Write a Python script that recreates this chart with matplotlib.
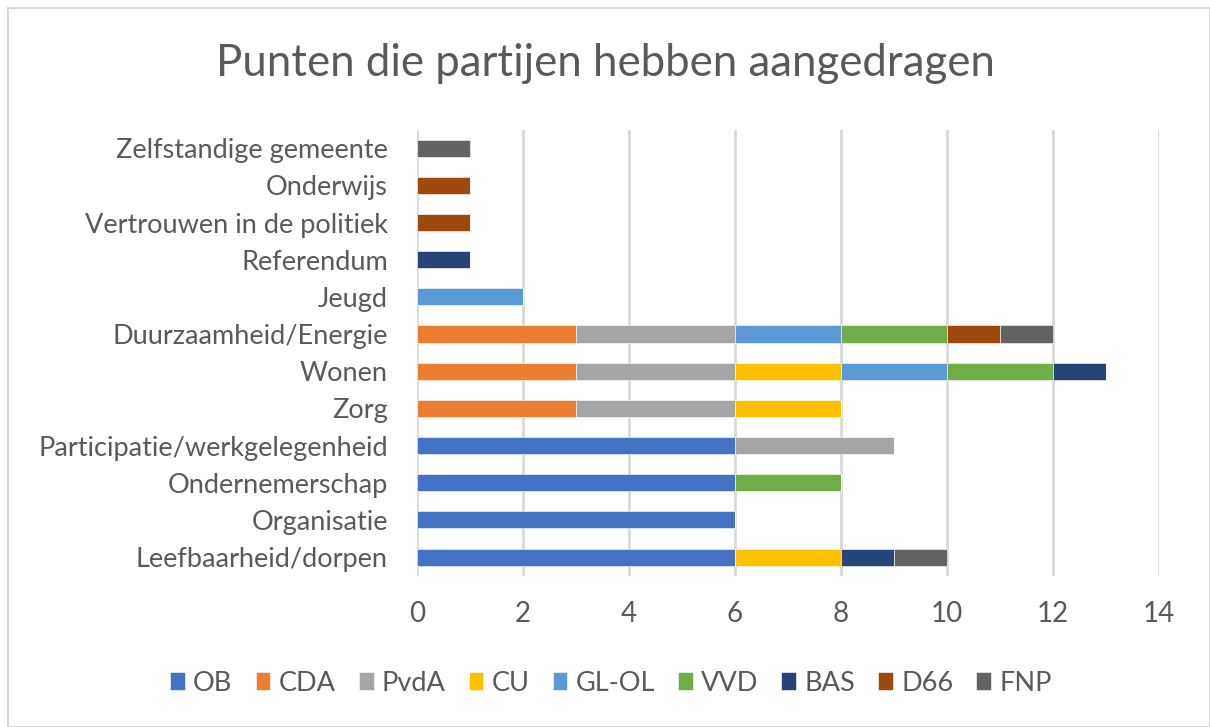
import matplotlib
matplotlib.use("Agg")
import matplotlib.pyplot as plt
from matplotlib.patches import Rectangle
import numpy as np

plt.rcParams['font.family'] = ['Lato', 'DejaVu Sans']

# onderwerpen, van onder naar boven
categories = ["Leefbaarheid/dorpen", "Organisatie", "Ondernemerschap",
              "Participatie/werkgelegenheid", "Zorg", "Wonen",
              "Duurzaamheid/Energie", "Jeugd", "Referendum",
              "Vertrouwen in de politiek", "Onderwijs", "Zelfstandige gemeente"]

parties = ["OB", "CDA", "PvdA", "CU", "GL-OL", "VVD", "BAS", "D66", "FNP"]
colors = ["#4472C4", "#ED7D31", "#A5A5A5", "#FFC000", "#5B9BD5",
          "#70AD47", "#264478", "#9E480E", "#636363"]

OB    = [6, 6, 6, 6, 0, 0, 0, 0, 0, 0, 0, 0]
CDA   = [0, 0, 0, 0, 3, 3, 3, 0, 0, 0, 0, 0]
PvdA  = [0, 0, 0, 3, 3, 3, 3, 0, 0, 0, 0, 0]
CU    = [2, 0, 0, 0, 2, 2, 0, 0, 0, 0, 0, 0]
GL_OL = [0, 0, 0, 0, 0, 2, 2, 2, 0, 0, 0, 0]
VVD   = [0, 0, 2, 0, 0, 2, 2, 0, 0, 0, 0, 0]
BAS   = [1, 0, 0, 0, 0, 1, 0, 0, 1, 0, 0, 0]
D66   = [0, 0, 0, 0, 0, 0, 1, 0, 0, 1, 1, 0]
FNP   = [1, 0, 0, 0, 0, 0, 1, 0, 0, 0, 0, 1]
series = [OB, CDA, PvdA, CU, GL_OL, VVD, BAS, D66, FNP]

xticks = [0, 2, 4, 6, 8, 10, 12, 14]
text_color = "#595959"

fig = plt.figure(figsize=(12.1, 7.27), dpi=100)
fig.patches.append(Rectangle((8 / 1210, 0), 1 - 8 / 1210, 1 - 8 / 727,
                             transform=fig.transFigure, fill=False,
                             edgecolor="#d9d9d9", linewidth=1.5))

ax = fig.add_axes([0.3446, 0.2082, 0.6132, 0.6135])
y = np.arange(len(categories))
left = np.zeros(len(categories))
for name, vals, c in zip(parties, series, colors):
    vals = np.array(vals, dtype=float)
    ax.barh(y, vals, left=left, height=0.46, color=c, label=name,
            edgecolor="white", linewidth=0.4, zorder=3)
    left += vals

ax.set_xlim(0, 14)
ax.set_ylim(-0.5, len(categories) - 0.5)
ax.set_xticks(xticks)
ax.set_yticks(y)
ax.set_yticklabels(categories)
ax.grid(axis="x", color="#d9d9d9", linewidth=2, zorder=0)
for s in ax.spines.values():
    s.set_visible(False)
ax.tick_params(length=0, colors=text_color)
ax.tick_params(axis="x", pad=18, labelsize=20)
ax.tick_params(axis="y", pad=21, labelsize=19.5)

fig.text(0.5, 0.913, "Punten die partijen hebben aangedragen",
         ha="center", va="center", fontsize=31.5, color=text_color)

fig.legend(loc="center", bbox_to_anchor=(0.505, 0.06), ncol=9, frameon=False,
           fontsize=19.5, labelcolor=text_color, handlelength=0.55,
           handleheight=0.65, handletextpad=0.3, columnspacing=0.85)

fig.savefig("out.png", dpi=100)
